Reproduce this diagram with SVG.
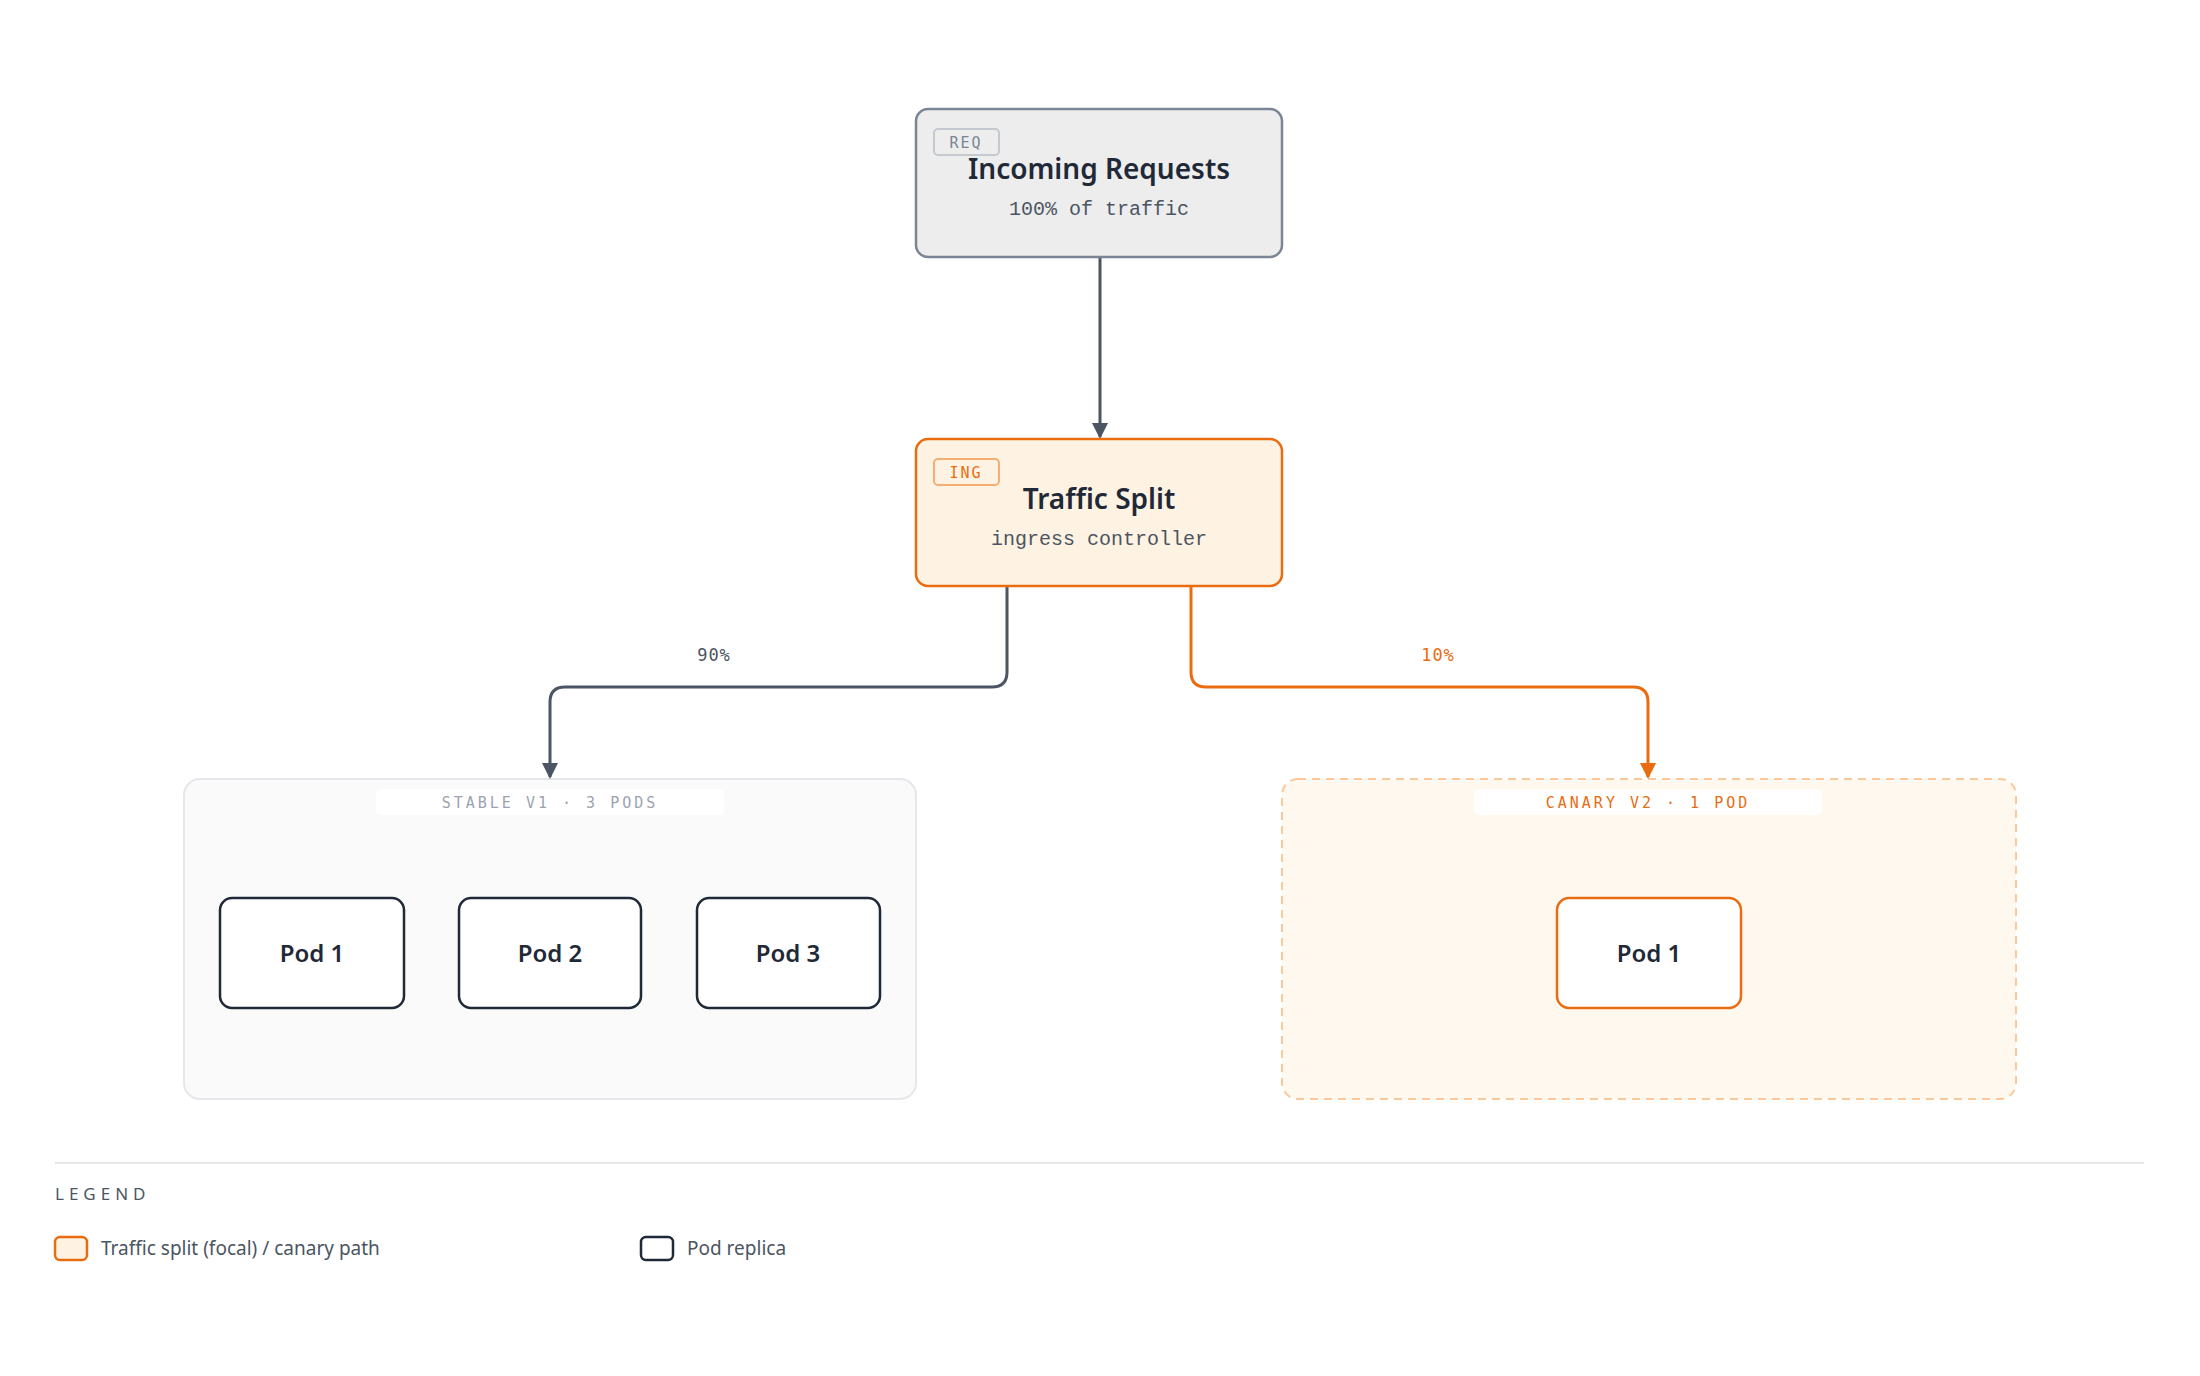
<svg xmlns="http://www.w3.org/2000/svg" width="2200" height="1376" viewBox="0 0 2200 1376">
<style>
.title{font-family:"Noto Sans","Open Sans",sans-serif;font-weight:600;font-size:28px;fill:#1f2937;text-anchor:middle}
.sub{font-family:"Liberation Mono","DejaVu Sans Mono",monospace;font-size:20px;fill:#4b5563;text-anchor:middle}
.tag{font-family:"DejaVu Sans Mono","Liberation Mono",monospace;font-size:15px;letter-spacing:2px;text-anchor:middle}
.pod{font-family:"Noto Sans","Open Sans",sans-serif;font-weight:600;font-size:24px;fill:#1f2937;text-anchor:middle}
.grp{font-family:"DejaVu Sans Mono","Liberation Mono",monospace;font-size:15px;letter-spacing:3px;text-anchor:middle}
.elab{font-family:"DejaVu Sans Mono","Liberation Mono",monospace;font-size:17px;letter-spacing:1px;text-anchor:middle}
.leg{font-family:"Noto Sans","Open Sans",sans-serif;font-size:19px;fill:#4b5563}
</style>
<defs>
<marker id="ag" markerWidth="16" markerHeight="18" refX="14" refY="8" orient="auto" markerUnits="userSpaceOnUse"><path d="M0,0 L16,8 L0,16 Z" fill="#4b5563"/></marker>
<marker id="ao" markerWidth="16" markerHeight="18" refX="14" refY="8" orient="auto" markerUnits="userSpaceOnUse"><path d="M0,0 L16,8 L0,16 Z" fill="#ea6c10"/></marker>
</defs>
<rect width="2200" height="1376" fill="#ffffff"/>
<g id="stable-group">
<rect x="184" y="779" width="732" height="320" rx="16" fill="#fafafa" stroke="#e5e7eb" stroke-width="2"/>
<rect x="376" y="789" width="348" height="26" rx="5" fill="#ffffff"/>
<text class="grp" x="550" y="808" fill="#9ca3af">STABLE V1 · 3 PODS</text>
</g>
<g id="canary-group">
<rect x="1282" y="779" width="734" height="320" rx="16" fill="#fff8ef" stroke="#fbc89b" stroke-width="2" stroke-dasharray="8 6"/>
<rect x="1474" y="789" width="348" height="26" rx="5" fill="#ffffff"/>
<text class="grp" x="1648" y="808" fill="#ea6c10">CANARY V2 · 1 POD</text>
</g>
<g id="connectors" fill="none" stroke-width="3">
<path d="M1100,257 V437" stroke="#4b5563" marker-end="url(#ag)"/>
<path d="M1007,586 V672 Q1007,687 992,687 H565 Q550,687 550,702 V777" stroke="#4b5563" marker-end="url(#ag)"/>
<path d="M1191,586 V672 Q1191,687 1206,687 H1633 Q1648,687 1648,702 V777" stroke="#ea6c10" marker-end="url(#ao)"/>
<text class="elab" x="714" y="661" fill="#4b5563" stroke="none">90%</text>
<text class="elab" x="1438" y="661" fill="#ea6c10" stroke="none">10%</text>
</g>
<g id="incoming">
<rect x="916" y="109" width="366" height="148" rx="12" fill="#ededed" stroke="#7b8594" stroke-width="2.5"/>
<rect x="934" y="129" width="65" height="26" rx="4" fill="none" stroke="#c4c9d0" stroke-width="2"/>
<text class="tag" x="966" y="148" fill="#7b8594">REQ</text>
<text class="title" x="1099" y="179">Incoming Requests</text>
<text class="sub" x="1099" y="215">100% of traffic</text>
</g>
<g id="traffic-split">
<rect x="916" y="439" width="366" height="147" rx="12" fill="#fef3e2" stroke="#ea6c10" stroke-width="2.5"/>
<rect x="934" y="459" width="65" height="26" rx="4" fill="none" stroke="#f6ae73" stroke-width="2"/>
<text class="tag" x="966" y="478" fill="#ea6c10">ING</text>
<text class="title" x="1099" y="509">Traffic Split</text>
<text class="sub" x="1099" y="545">ingress controller</text>
</g>
<g id="pod1"><rect x="220" y="898" width="184" height="110" rx="12" fill="#fff" stroke="#1f2937" stroke-width="2.5"/><text class="pod" x="312" y="962">Pod 1</text></g>
<g id="pod2"><rect x="459" y="898" width="182" height="110" rx="12" fill="#fff" stroke="#1f2937" stroke-width="2.5"/><text class="pod" x="550" y="962">Pod 2</text></g>
<g id="pod3"><rect x="697" y="898" width="183" height="110" rx="12" fill="#fff" stroke="#1f2937" stroke-width="2.5"/><text class="pod" x="788" y="962">Pod 3</text></g>
<g id="canary-pod1"><rect x="1557" y="898" width="184" height="110" rx="12" fill="#fff" stroke="#ea6c10" stroke-width="2.5"/><text class="pod" x="1649" y="962">Pod 1</text></g>
<g id="legend">
<line x1="55" y1="1163" x2="2144" y2="1163" stroke="#e5e7eb" stroke-width="2"/>
<text x="55" y="1200" font-family="Noto Sans, sans-serif" font-size="17" letter-spacing="5" fill="#4b5563">LEGEND</text>
<rect x="55" y="1237" width="32" height="23" rx="5" fill="#fef3e2" stroke="#ea6c10" stroke-width="2.5"/>
<text class="leg" x="101" y="1255">Traffic split (focal) / canary path</text>
<rect x="641" y="1237" width="32" height="23" rx="5" fill="#fff" stroke="#1f2937" stroke-width="2.5"/>
<text class="leg" x="687" y="1255">Pod replica</text>
</g>
</svg>
